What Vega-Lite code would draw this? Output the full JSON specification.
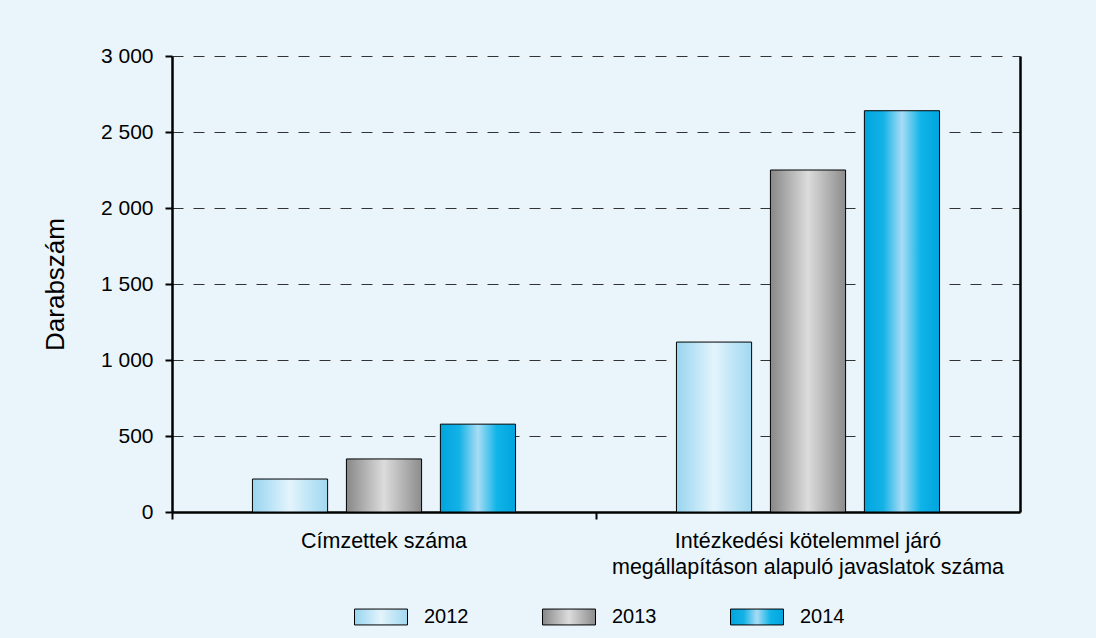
{
  "$schema": "https://vega.github.io/schema/vega-lite/v6.json",
  "autosize": {"type": "none"},
  "width": 848,
  "height": 456,
  "padding": {"left": 172, "top": 56, "right": 76, "bottom": 126},
  "background": "#eaf5fb",
  "config": {
    "font": "Liberation Sans",
    "view": {"stroke": null}
  },
  "data": {
    "values": [
      {"kategoria": "Címzettek száma", "ev": "2012", "darab": 217},
      {"kategoria": "Címzettek száma", "ev": "2013", "darab": 349},
      {"kategoria": "Címzettek száma", "ev": "2014", "darab": 578},
      {"kategoria": "Intézkedési kötelemmel járó|megállapításon alapuló javaslatok száma", "ev": "2012", "darab": 1118},
      {"kategoria": "Intézkedési kötelemmel járó|megállapításon alapuló javaslatok száma", "ev": "2013", "darab": 2250},
      {"kategoria": "Intézkedési kötelemmel járó|megállapításon alapuló javaslatok száma", "ev": "2014", "darab": 2640}
    ]
  },
  "encoding": {
    "x": {
      "field": "kategoria", "type": "nominal", "sort": null,
      "scale": {"paddingInner": 0, "paddingOuter": 0},
      "axis": {
        "title": null, "labelAngle": 0, "bandPosition": 0,
        "labelExpr": "split(datum.label, '|')",
        "labelFontSize": 21.5, "labelColor": "#000", "labelLineHeight": 26,
        "labelPadding": 11, "labelLimit": 1000, "tickSize": 7, "tickWidth": 2, "tickColor": "#000",
        "domainColor": "#000", "domainWidth": 2.5, "labelBound": false,
        "labelBaseline": "top", "labelFont": "Liberation Sans"
      }
    },
    "xOffset": {
      "field": "ev", "type": "nominal",
      "scale": {"domain": ["2012", "2013", "2014"], "paddingInner": 0.2, "paddingOuter": 0.856}
    }
  },
  "layer": [
    {
      "mark": {"type": "bar", "stroke": "#000", "strokeWidth": 1},
      "encoding": {
        "y": {
          "field": "darab", "type": "quantitative",
          "scale": {"domain": [0, 3000]},
          "axis": {
            "orient": "left",
            "title": "Darabszám", "titleFontSize": 26, "titleFontWeight": "normal",
            "titleColor": "#000", "titlePadding": 32, "titleFont": "Liberation Sans",
            "values": [0, 500, 1000, 1500, 2000, 2500, 3000],
            "labelExpr": "replace(format(datum.value, ','), ',', ' ')",
            "labelFontSize": 21, "labelColor": "#000", "labelPadding": 12,
            "labelFont": "Liberation Sans",
            "tickSize": 7, "tickWidth": 2, "tickColor": "#000",
            "domainColor": "#000", "domainWidth": 2.5,
            "grid": true, "gridColor": "#333", "gridDash": [11, 10], "gridWidth": 1
          }
        },
        "fill": {
          "field": "ev", "type": "nominal",
          "scale": {
            "domain": ["2012", "2013", "2014"],
            "range": [
              {"expr": "{gradient: 'linear', x1: 0, y1: 0, x2: 1, y2: 0, stops: [{offset: 0, color: '#98d4ef'}, {offset: 0.3, color: '#c4e8f8'}, {offset: 0.5, color: '#e4f4fc'}, {offset: 0.7, color: '#c6e8f7'}, {offset: 1, color: '#a2d8f1'}]}"},
              {"expr": "{gradient: 'linear', x1: 0, y1: 0, x2: 1, y2: 0, stops: [{offset: 0, color: '#888888'}, {offset: 0.5, color: '#dcdcdc'}, {offset: 1, color: '#8c8c8c'}]}"},
              {"expr": "{gradient: 'linear', x1: 0, y1: 0, x2: 1, y2: 0, stops: [{offset: 0, color: '#00a5de'}, {offset: 0.25, color: '#14b2e6'}, {offset: 0.5, color: '#a8dcf5'}, {offset: 0.75, color: '#10b4e8'}, {offset: 1, color: '#00a5de'}]}"}
            ]
          },
          "legend": {
            "title": null, "orient": "none", "direction": "horizontal",
            "legendX": 182, "legendY": 534,
            "columns": 3, "columnPadding": 71,
            "symbolType": "M-1,-0.3 h2 v0.6 h-2 Z", "symbolSize": 2809,
            "symbolStrokeColor": "#000", "symbolStrokeWidth": 1, "symbolOpacity": 1,
            "labelFontSize": 20, "labelColor": "#000", "labelOffset": 16,
            "labelFont": "Liberation Sans"
          }
        }
      }
    },
    {
      "mark": {"type": "bar", "opacity": 0},
      "encoding": {
        "y": {
          "field": "darab", "type": "quantitative",
          "scale": {"domain": [0, 3000]},
          "axis": {
            "orient": "right", "title": null, "labels": false, "ticks": false,
            "grid": false, "domainColor": "#000", "domainWidth": 2.5
          }
        }
      }
    }
  ],
  "resolve": {"axis": {"y": "independent"}}
}
